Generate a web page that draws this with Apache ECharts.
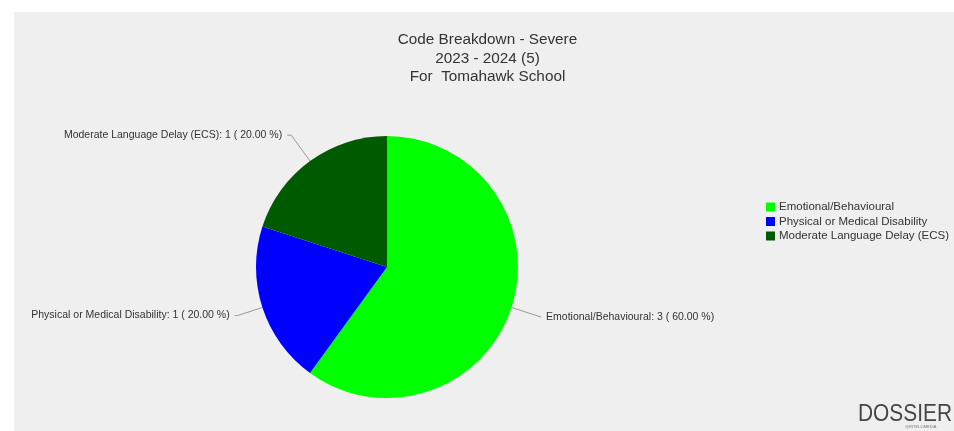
<!DOCTYPE html>
<html>
<head>
<meta charset="utf-8">
<script src="https://cdn.jsdelivr.net/npm/echarts@6/dist/echarts.min.js"></script>
<style>
html,body{margin:0;padding:0;background:#fff;}
#chart{width:954px;height:431px;}
</style>
</head>
<body>
<div id="chart"></div>
<script>
const titleLines = ['Code Breakdown - Severe', '2023 - 2024 (5)', 'For  Tomahawk School'];
const categories = ['Emotional/Behavioural', 'Physical or Medical Disability', 'Moderate Language Delay (ECS)'];
const values = [3, 1, 1];
const colors = ['#00ff00', '#0000ff', '#005a00'];

const total = values.reduce((a, b) => a + b, 0);
const chart = echarts.init(document.getElementById('chart'), null, {renderer: 'canvas'});
const font = 'Liberation Sans, Arial, Helvetica, sans-serif';
const lineLens = [[31, 0], [26, 3], [32, 4]];

chart.setOption({
  animation: false,
  backgroundColor: '#ffffff',
  graphic: [
    {type: 'rect', left: 14, top: 12, shape: {width: 940, height: 419}, style: {fill: '#efefef'}, z: -10},
    {type: 'text', x: 858, y: 402, scaleX: 0.87, style: {text: 'DOSSIER', font: '500 24px ' + font, fill: '#454545'}, z: 10},
    {type: 'text', x: 905, y: 425, style: {text: '@INTELLIMEDIA', font: '4px ' + font, fill: '#777'}, z: 10}
  ],
  title: {
    text: titleLines.join('\n'),
    left: 482.5,
    top: 26,
    textAlign: 'center',
    textStyle: {fontFamily: font, fontSize: 15.3, fontWeight: 'normal', color: '#333', lineHeight: 18.5}
  },
  legend: {
    orient: 'vertical',
    left: 766,
    top: 201,
    padding: 0,
    itemWidth: 9,
    itemHeight: 9,
    itemGap: 2.5,
    icon: 'rect',
    data: categories,
    textStyle: {fontFamily: font, fontSize: 11.5, color: '#333', padding: [0, 0, 0, -1]}
  },
  series: [{
    type: 'pie',
    center: [387, 267],
    radius: 131,
    startAngle: 90,
    clockwise: true,
    color: colors,
    data: categories.map((c, i) => ({
      name: c, value: values[i],
      labelLine: {length: lineLens[i][0], length2: lineLens[i][1]}
    })),
    label: {
      show: true,
      position: 'outside',
      fontFamily: font,
      fontSize: 10.5,
      color: '#333',
      formatter: p => p.name + ': ' + p.value + ' ( ' + (p.value / total * 100).toFixed(2) + ' %)'
    },
    labelLine: {show: true, length: 32, length2: 4, lineStyle: {color: '#999', width: 1}},
    itemStyle: {borderWidth: 0},
    emphasis: {disabled: true}
  }]
});
</script>
</body>
</html>
